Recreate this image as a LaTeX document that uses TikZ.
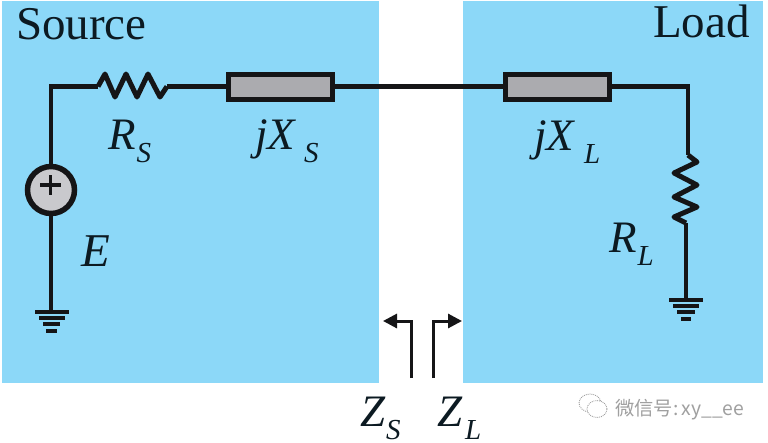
\documentclass[tikz,border=0pt]{standalone}
\usepackage{fontspec}
\setmainfont{Liberation Serif}
\newfontfamily\cjkfont{Noto Sans CJK SC}
\usetikzlibrary{arrows.meta}
\definecolor{panelblue}{HTML}{8CD8F8}
\definecolor{ink}{HTML}{151517}
\definecolor{txtink}{HTML}{0C1A22}
\definecolor{boxgrey}{HTML}{ABABAF}
\definecolor{srcgrey}{HTML}{C9C9CD}
\definecolor{markgrey}{HTML}{A0A0A0}
\newcommand\sublabel[3]{{\fontsize{45}{45}\selectfont\itshape #1}\kern#3pt\raisebox{-13pt}{\fontsize{29}{29}\selectfont\itshape #2}}
\tikzset{
  x=1pt,y=-1pt,
  panel/.style={fill=panelblue,draw=none},
  wire/.style={draw=ink,line width=4.2pt,line join=miter},
  reactor/.style={draw=ink,fill=boxgrey,line width=5pt,minimum width=104pt,minimum height=25pt,inner sep=0pt},
  sourcecirc/.style={circle,draw=ink,fill=srcgrey,line width=5.5pt,minimum size=47pt,inner sep=0pt},
  gbar/.style={draw=ink,line width=3.6pt},
  lbl/.style={anchor=base west,inner sep=0pt,text=txtink},
  title/.style={lbl,font=\fontsize{47}{47}\selectfont},
  probe/.style={draw=ink,line width=3pt,-{Triangle[length=14pt,width=14pt]}},
  wmark/.style={draw=markgrey,line width=0.9pt,fill=white},
}
\begin{document}
\begin{tikzpicture}
\useasboundingbox (0,0) rectangle (768,442);
\fill[white] (0,0) rectangle (768,442);
\path[panel] (2,1) rectangle (379,383);
\path[panel] (463,1) rectangle (763,383);

\node[reactor] (xs) at (280.5,86.5) {};
\node[reactor] (xl) at (557.5,86.5) {};
\node[sourcecirc] (src) at (51,190) {};
\draw[ink,line width=3.2pt] (40,185) -- (61,185) (50.5,175) -- (50.5,195);

\coordinate (tl) at (51,86.5);
\coordinate (tr) at (688,86.5);
\coordinate (rs1) at (98,86.5);
\coordinate (rs2) at (167,86.5);
\coordinate (rl1) at (688,155);
\coordinate (rl2) at (686,223);
\coordinate (gl) at (51,312);
\coordinate (gr) at (686,300);

\draw[wire] (src.north) -- (tl) -- (rs1);
\draw[wire] (rs2) -- (xs.west);
\draw[wire] (xs.east) -- (xl.west);
\draw[wire] (xl.east) -- (tr) -- (rl1);
\draw[wire] (rl2) -- (gr);
\draw[wire] (src.south) -- (gl);

\draw[draw=ink,line width=5pt,line join=round]
  (rs1) -- (105,74) -- (115,97) -- (126,74) -- (137,97) -- (148,74) -- (160,97) -- (rs2);
\draw[draw=ink,line width=5pt,line join=round]
  (rl1) -- (697,162) -- (674,173) -- (697,185) -- (674,197) -- (697,207) -- (674,217) -- (rl2);

\draw[gbar] (35,312) -- (69,312) (39,318) -- (65,318) (43,324) -- (60,324) (46,331) -- (57,331);
\draw[gbar] (669,300) -- (703,300) (673,306) -- (699,306) (677,312) -- (695,312) (681,319) -- (691,319);

\coordinate (ps1) at (411,378);
\coordinate (ps2) at (411,321);
\coordinate (ps3) at (383,321);
\coordinate (pl1) at (433,378);
\coordinate (pl2) at (433,321);
\coordinate (pl3) at (462,321);
\draw[probe] (ps1) -- (ps2) -- (ps3);
\draw[probe] (pl1) -- (pl2) -- (pl3);

\node[title] (tsource) at (16,39) {Source};
\node[title,anchor=base east] (tload) at (750,37) {Load};
\node[lbl] (lrs) at (108,149) {\sublabel{R}{S}{1}};
\node[lbl] (ljxs) at (255,149) {\sublabel{jX}{S}{9}};
\node[lbl] (ljxl) at (534,150) {\sublabel{jX}{L}{10}};
\node[lbl] (lrl) at (609,252) {\sublabel{R}{L}{1}};
\node[lbl] (le) at (81,266) {\fontsize{47}{47}\selectfont\itshape E};
\node[lbl] (lzs) at (360,426) {\sublabel{Z}{S}{1}};
\node[lbl] (lzl) at (437,426) {\sublabel{Z}{L}{3}};

\draw[wmark,densely dotted] (590,403) ellipse (11pt and 9pt);
\draw[wmark,densely dotted] (597,409) ellipse (10pt and 8.5pt);
\node[anchor=base west,inner sep=0pt,text=markgrey,font=\cjkfont\fontsize{19.3}{19.3}\selectfont] (wm) at (615,415) {微信号:\,xy\_\_ee};
\end{tikzpicture}
\end{document}
